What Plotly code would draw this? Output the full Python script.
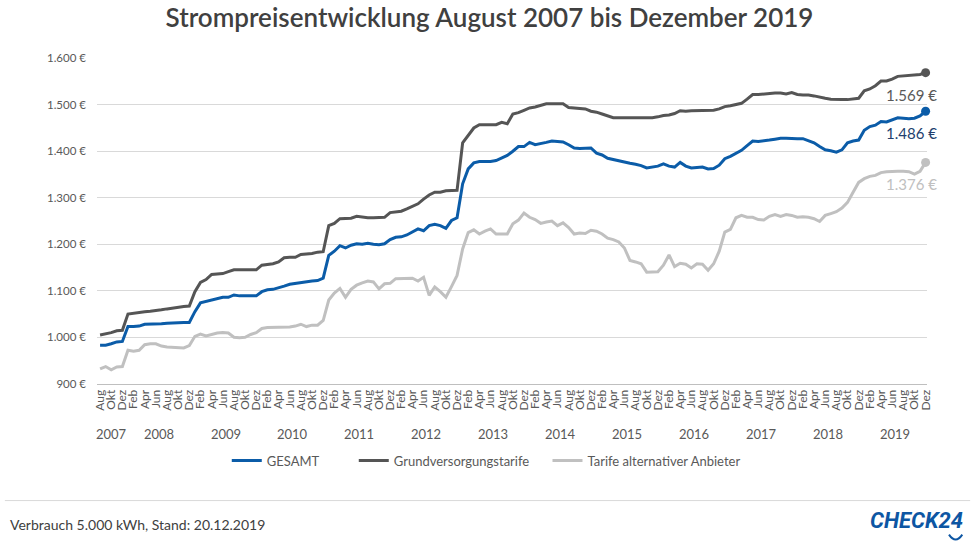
import plotly.graph_objects as go

# Monatswerte August 2007 bis Dezember 2019 (Jahreskosten in €, 5.000 kWh)
MONTHS = ["Jan", "Feb", "Mär", "Apr", "Mai", "Jun", "Jul", "Aug", "Sep", "Okt", "Nov", "Dez"]
YEARS = list(range(2007, 2020))
START_MONTH = 7  # August

gesamt = [
    983, 983, 986, 990, 991,                                              # 2007
    1023, 1023, 1024, 1028, 1028, 1028, 1029, 1030, 1031, 1031, 1032, 1032,  # 2008
    1055, 1074, 1077, 1081, 1084, 1086, 1086, 1091, 1089, 1089, 1089, 1089,  # 2009
    1098, 1102, 1103, 1106, 1110, 1114, 1116, 1118, 1120, 1121, 1122, 1127,  # 2010
    1176, 1185, 1197, 1192, 1198, 1201, 1200, 1202, 1200, 1199, 1201, 1210,  # 2011
    1215, 1216, 1220, 1226, 1233, 1229, 1240, 1243, 1240, 1234, 1251, 1257,  # 2012
    1330, 1362, 1375, 1378, 1378, 1378, 1380, 1386, 1391, 1400, 1410, 1410,  # 2013
    1419, 1414, 1416, 1419, 1422, 1421, 1420, 1414, 1407, 1406, 1407, 1407,  # 2014
    1396, 1392, 1385, 1382, 1380, 1377, 1374, 1372, 1369, 1364, 1366, 1368,  # 2015
    1373, 1368, 1366, 1376, 1368, 1364, 1365, 1366, 1362, 1363, 1370, 1384,  # 2016
    1389, 1396, 1402, 1412, 1422, 1421, 1422, 1424, 1426, 1428, 1428, 1427,  # 2017
    1427, 1427, 1423, 1418, 1410, 1403, 1401, 1398, 1403, 1418, 1422, 1424,  # 2018
    1445, 1453, 1456, 1464, 1463, 1468, 1472, 1471, 1470, 1471, 1476, 1486,  # 2019
]

grundversorgung = [
    1005, 1007, 1010, 1014, 1015,
    1050, 1052, 1053, 1055, 1056, 1057, 1059, 1061, 1063, 1065, 1066, 1067,
    1098, 1118, 1124, 1135, 1136, 1137, 1141, 1145, 1145, 1145, 1145, 1145,
    1155, 1157, 1158, 1162, 1171, 1172, 1172, 1178, 1179, 1180, 1183, 1184,
    1240, 1245, 1255, 1255, 1256, 1260, 1258, 1257, 1257, 1257, 1258, 1268,
    1270, 1271, 1276, 1281, 1287, 1297, 1306, 1312, 1312, 1315, 1316, 1316,
    1418, 1435, 1450, 1457, 1457, 1457, 1457, 1462, 1459, 1480, 1483, 1488,
    1493, 1495, 1498, 1502, 1502, 1502, 1502, 1494, 1493, 1493, 1491, 1486,
    1484, 1480, 1476, 1472, 1472, 1472, 1472, 1472, 1472, 1472, 1472, 1474,
    1477, 1478, 1481, 1487, 1486, 1487, 1487, 1487, 1487, 1488, 1491, 1496,
    1498, 1501, 1503, 1512, 1522, 1522, 1523, 1525, 1525, 1525, 1523, 1526,
    1522, 1521, 1521, 1519, 1516, 1514, 1512, 1511, 1511, 1511, 1512, 1514,
    1530, 1534, 1541, 1551, 1551, 1555, 1561, 1562, 1563, 1564, 1565, 1569,
]

alternativ = [
    932, 937, 930, 936, 937,
    972, 970, 972, 984, 986, 986, 981, 979, 978, 977, 977, 982,
    1002, 1007, 1003, 1006, 1009, 1010, 1009, 1000, 999, 1000, 1006, 1010,
    1019, 1021, 1021, 1021, 1021, 1022, 1024, 1028, 1023, 1026, 1026, 1036,
    1080, 1095, 1105, 1086, 1103, 1112, 1117, 1121, 1119, 1104, 1115, 1116,
    1126, 1126, 1127, 1127, 1121, 1129, 1090, 1108, 1098, 1086, 1109, 1133,
    1190, 1225, 1231, 1222, 1228, 1233, 1222, 1222, 1222, 1244, 1252, 1267,
    1258, 1253, 1245, 1248, 1250, 1240, 1246, 1236, 1222, 1224, 1223, 1230,
    1228, 1222, 1213, 1210, 1205, 1192, 1165, 1162, 1158, 1140, 1140, 1141,
    1155, 1177, 1152, 1159, 1157, 1149, 1158, 1157, 1144, 1158, 1185, 1226,
    1232, 1257, 1262, 1258, 1258, 1253, 1252, 1260, 1264, 1260, 1264, 1262,
    1258, 1259, 1258, 1255, 1249, 1262, 1266, 1270, 1278, 1290, 1312, 1333,
    1341, 1346, 1348, 1354, 1356, 1357, 1357, 1357, 1356, 1351, 1357, 1376,
]

Y_TICKS = [900, 1000, 1100, 1200, 1300, 1400, 1500, 1600]

BLUE = "#0b5ca8"
DARK = "#555555"
LIGHT = "#c0c0c0"
TEXT = "#595959"
FONT = "Lato, 'Open Sans', sans-serif"
NB = "&nbsp;"


def euro(v):
    return f"{v:,.0f}".replace(",", ".") + " €"


x = list(range(len(gesamt)))
month_labels = [MONTHS[(START_MONTH + i) % 12] for i in x]

# (legend name, values, line colour, end label colour, legend padding)
series = [
    ("GESAMT", gesamt, BLUE, "#233f6e", 9),
    ("Grundversorgungstarife", grundversorgung, DARK, TEXT, 4),
    ("Tarife alternativer Anbieter", alternativ, LIGHT, LIGHT, 0),
]

fig = go.Figure()
for name, vals, color, _, pad in series:
    fig.add_trace(go.Scatter(x=x, y=vals, name=name + NB * pad, mode="lines",
                             line=dict(color=color, width=3)))
for name, vals, color, label_color, _ in series:
    fig.add_trace(go.Scatter(x=[x[-1]], y=[vals[-1]], mode="markers", showlegend=False,
                             marker=dict(color=color, size=9), cliponaxis=False))
    fig.add_annotation(x=x[-1], y=vals[-1], text=euro(vals[-1]), showarrow=False,
                       xshift=-14, yshift=-22, font=dict(size=15, color=label_color, family=FONT))

# year labels centred under each year's months
for yr in YEARS:
    idx = [i for i in x if 2007 + (START_MONTH + i) // 12 == yr]
    fig.add_annotation(x=(idx[0] + idx[-1]) / 2, y=-0.152, yref="paper", yanchor="middle",
                       text=str(yr), showarrow=False,
                       font=dict(size=13, color=TEXT, family=FONT))

fig.add_shape(type="line", xref="paper", yref="paper", x0=-0.111, x1=1.052,
              y0=-0.3576, y1=-0.3576, line=dict(color="#d9d9d9", width=1))
fig.add_annotation(xref="paper", yref="paper", x=-0.1072, y=-0.431, xanchor="left",
                   yanchor="middle", text="Verbrauch 5.000 kWh, Stand: 20.12.2019",
                   showarrow=False, font=dict(size=14, color="#404040", family=FONT))
fig.add_annotation(xref="paper", yref="paper", x=1.0458, y=-0.4186, xanchor="right",
                   yanchor="middle", text="<b><i>CHECK24</i></b>", showarrow=False,
                   font=dict(size=22, color="#0d56a3", family="Roboto, sans-serif"))
fig.add_shape(type="path", xref="paper", yref="paper",
              path="M 1.0265,-0.462 Q 1.0345,-0.492 1.0425,-0.462",
              line=dict(color="#0d56a3", width=2))

fig.update_layout(
    width=979, height=551,
    margin=dict(l=97, r=52, t=58, b=167),
    plot_bgcolor="white", paper_bgcolor="white",
    font=dict(family=FONT, color=TEXT),
    title=dict(text="Strompreisentwicklung August 2007 bis Dezember 2019",
               x=0.5, xanchor="center", y=0.967, yanchor="middle",
               font=dict(size=26, color="#404040", family=FONT, weight=600)),
    legend=dict(orientation="h", x=0.469, xanchor="center", y=-0.235, yanchor="middle",
                font=dict(size=13, color=TEXT), itemwidth=30),
    showlegend=True,
)
fig.update_xaxes(range=[-0.55, 148.25], tickvals=x[::2], ticktext=month_labels[::2],
                 tickangle=-90, tickfont=dict(size=12, color=TEXT),
                 showgrid=False, zeroline=False, showline=True, linecolor="#bfbfbf")
fig.update_yaxes(range=[899.5, 1600.5], tickvals=Y_TICKS, ticktext=[euro(v) for v in Y_TICKS],
                 tickfont=dict(size=11.5, color=TEXT), gridcolor="#d9d9d9", zeroline=False,
                 ticklabelstandoff=10)

fig.write_html("out.html", config={"displayModeBar": False},
               post_script="document.body.style.margin='0px';")
